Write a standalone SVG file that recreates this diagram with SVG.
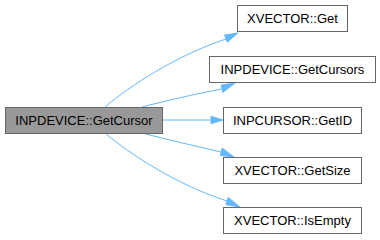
<svg xmlns="http://www.w3.org/2000/svg" width="380" height="240" viewBox="0 0 380 240">
  <style>
    .node rect { fill: #ffffff; stroke: #666666; stroke-width: 1; }
    .node.main rect { fill: #999999; }
    .node text { font-family: "Liberation Sans", Arial, sans-serif; font-size: 13px; fill: #000000; text-anchor: middle; }
    .edge { fill: none; stroke: #63b8ff; stroke-width: 1; }
    .head { fill: #63b8ff; stroke: #63b8ff; stroke-width: 1; }
  </style>

  <g id="edges">
    <path class="edge" d="M105,107 C130,86 175,56 226,39"/>
    <polygon class="head" points="224.6,35.1 238,33 227.2,42.2"/>
    <path class="edge" d="M142,107 C165,101 195,94 222,89"/>
    <polygon class="head" points="221.2,85.1 235,83 222.8,92.4"/>
    <path class="edge" d="M163,120 L211,120"/>
    <polygon class="head" points="211,116.3 223,120 211,123.7"/>
    <path class="edge" d="M142,133 C165,139 195,146 221,152"/>
    <polygon class="head" points="222.2,148.1 234,157 220.3,155.4"/>
    <path class="edge" d="M105,133 C130,154 175,184 227,201"/>
    <polygon class="head" points="228.2,197.4 240,207 225.8,204.6"/>
  </g>

  <g id="node-getcursor" class="node main">
    <rect x="5.5" y="107.5" width="157" height="26"/>
    <text x="84" y="125">INPDEVICE::GetCursor</text>
  </g>
  <g id="node-xvector-get" class="node">
    <rect x="237.5" y="5.5" width="110" height="26"/>
    <text x="292.5" y="23">XVECTOR::Get</text>
  </g>
  <g id="node-getcursors" class="node">
    <rect x="209.5" y="56.5" width="166" height="26"/>
    <text x="292.5" y="74">INPDEVICE::GetCursors</text>
  </g>
  <g id="node-getid" class="node">
    <rect x="223.5" y="107.5" width="138" height="26"/>
    <text x="292.5" y="125">INPCURSOR::GetID</text>
  </g>
  <g id="node-getsize" class="node">
    <rect x="223.5" y="157.5" width="138" height="26"/>
    <text x="292.5" y="175">XVECTOR::GetSize</text>
  </g>
  <g id="node-isempty" class="node">
    <rect x="223.5" y="207.5" width="138" height="26"/>
    <text x="292.5" y="225">XVECTOR::IsEmpty</text>
  </g>
</svg>
